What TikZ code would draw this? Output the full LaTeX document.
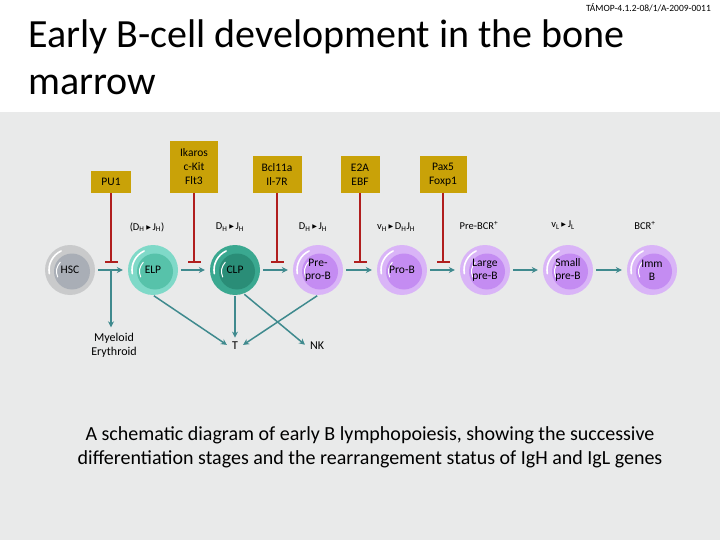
\documentclass[tikz,border=0pt]{standalone}
\usepackage{fontspec}
\setmainfont{Carlito}
\newfontfamily\dvfont{DejaVu Sans}
\usetikzlibrary{arrows.meta}
\definecolor{panel}{HTML}{E9EAEA}
\definecolor{gold}{HTML}{C9A208}
\definecolor{inhred}{HTML}{B01E1E}
\definecolor{flowc}{HTML}{3F8A8E}
\definecolor{hscO}{HTML}{C9CACB}
\definecolor{hscI}{HTML}{A9AEB6}
\definecolor{elpO}{HTML}{7FD9C8}
\definecolor{elpI}{HTML}{57C2AA}
\definecolor{clpO}{HTML}{3AA890}
\definecolor{clpI}{HTML}{2A8D77}
\definecolor{bO}{HTML}{D9B4F7}
\definecolor{bI}{HTML}{C48CF2}
\newcommand\mytri{{\dvfont\fontsize{6}{6}\selectfont\raisebox{0.3ex}{▶}}}
\newcommand\sbH{\textsubscript{H}}
\newcommand\sbL{\textsubscript{L}}
\tikzset{
  cell/.style n args={2}{circle, minimum size=50pt, inner sep=0pt, fill=#1,
    font=\fontsize{11.5}{13}\selectfont, align=center,
    path picture={
      \fill[#2] ([shift={(2pt,-1.5pt)}]path picture bounding box.center) circle[radius=18pt];
      \draw[white, line width=1.6pt, line cap=round] ([shift={(115:21pt)}]path picture bounding box.center) arc[start angle=115, end angle=190, radius=21pt];
      \draw[white, line width=1pt, line cap=round] ([shift={(-9.7pt,7.7pt)}]path picture bounding box.center) arc[start angle=135, end angle=205, radius=13pt];
    }},
  tf/.style={fill=gold, align=center, anchor=south, inner sep=1pt, font=\fontsize{11.5}{14}\selectfont},
  flow/.style={draw=flowc, line width=1.5pt, -{Stealth[length=6pt,width=6pt]}},
  inhib/.style={draw=inhred, line width=1.6pt, -{Bar[width=13pt,line width=1.6pt]}},
  rearr/.style={font=\fontsize{10.5}{12}\selectfont},
  lbl/.style={font=\fontsize{12}{14}\selectfont, align=center},
}
\begin{document}
\begin{tikzpicture}[x=1pt,y=-1pt]
\useasboundingbox (0,0) rectangle (720,540);
\fill[white] (0,0) rectangle (720,540);
\fill[panel] (0,112) rectangle (720,540);
% header and title
\node[anchor=base east, inner sep=0pt, font=\fontsize{9.5}{11}\selectfont] (hdr) at (711,12) {TÁMOP-4.1.2-08/1/A-2009-0011};
\node[anchor=base west, inner sep=0pt, align=left, font=\fontsize{40}{47}\selectfont] (title) at (28,95) {Early B-cell development in the bone\\marrow};
% cells
\node[cell={hscO}{hscI}] (hsc) at (70,270) {HSC};
\node[cell={elpO}{elpI}] (elp) at (153,270) {ELP};
\node[cell={clpO}{clpI}] (clp) at (235,270) {CLP};
\node[cell={bO}{bI}] (prepro) at (318,270) {Pre-\\pro-B};
\node[cell={bO}{bI}] (prob) at (402,270) {Pro-B};
\node[cell={bO}{bI}] (lpreb) at (485,270) {Large\\pre-B};
\node[cell={bO}{bI}] (spreb) at (568,270) {Small\\pre-B};
\node[cell={bO}{bI}] (immb) at (652,270) {Imm\\B};
% transcription factors
\node[tf, minimum width=40pt, minimum height=22pt] (pu1) at (111,193) {PU1};
\node[tf, minimum width=48pt, minimum height=52pt] (ikaros) at (194,193) {Ikaros\\c-Kit\\Flt3};
\node[tf, minimum width=49pt, minimum height=37pt] (bcl) at (277,193) {Bcl11a\\Il-7R};
\node[tf, minimum width=39pt, minimum height=37pt] (e2a) at (360,193) {E2A\\EBF};
\node[tf, minimum width=47pt, minimum height=37pt] (pax) at (443,193) {Pax5\\Foxp1};
\coordinate (i1) at (111,263);
\coordinate (i2) at (194,263);
\coordinate (i3) at (277,263);
\coordinate (i4) at (360,263);
\coordinate (i5) at (443,263);
\draw[inhib] (pu1.south) -- (i1);
\draw[inhib] (ikaros.south) -- (i2);
\draw[inhib] (bcl.south) -- (i3);
\draw[inhib] (e2a.south) -- (i4);
\draw[inhib] (pax.south) -- (i5);
% rearrangement labels
\node[rearr] (r1) at (147,227) {(D\sbH\,\mytri\,J\sbH)};
\node[rearr] (r2) at (230,227) {D\sbH\,\mytri\,J\sbH};
\node[rearr] (r3) at (313,227) {D\sbH\,\mytri\,J\sbH};
\node[rearr] (r4) at (396,227) {v\sbH\,\mytri\,D\sbH J\sbH};
\node[rearr] (r5) at (479,226) {Pre-BCR\textsuperscript{+}};
\node[rearr] (r6) at (563,225) {v\sbL\,\mytri\,J\sbL};
\node[rearr] (r7) at (645,226) {BCR\textsuperscript{+}};
% progression arrows
\draw[flow, shorten <=3pt, shorten >=5pt] (hsc) -- (elp);
\draw[flow, shorten <=3pt, shorten >=5pt] (elp) -- (clp);
\draw[flow, shorten <=3pt, shorten >=5pt] (clp) -- (prepro);
\draw[flow, shorten <=3pt, shorten >=5pt] (prepro) -- (prob);
\draw[flow, shorten <=3pt, shorten >=5pt] (prob) -- (lpreb);
\draw[flow, shorten <=3pt, shorten >=5pt] (lpreb) -- (spreb);
\draw[flow, shorten <=3pt, shorten >=5pt] (spreb) -- (immb);
% branches
\node[lbl] (myelo) at (114,345) {Myeloid\\Erythroid};
\node[lbl] (t) at (235,346) {T};
\node[lbl] (nk) at (317,346) {NK};
\coordinate (br) at (111,270);
\draw[flow, shorten >=2pt] (br) -- (myelo.north -| br);
\draw[flow, shorten <=1pt, shorten >=2pt] (elp.south) -- (t.west);
\draw[flow, shorten <=1pt, shorten >=1pt] (clp.south) -- (t.north);
\draw[flow, shorten <=1pt, shorten >=2pt] (clp.-70) -- (nk.west);
\draw[flow, shorten <=1pt, shorten >=2pt] (prepro.south) -- (t.east);
% caption
\node[align=center, font=\fontsize{20}{24}\selectfont] (cap) at (370,447) {A schematic diagram of early B lymphopoiesis, showing the successive\\differentiation stages and the rearrangement status of IgH and IgL genes};
\end{tikzpicture}
\end{document}
